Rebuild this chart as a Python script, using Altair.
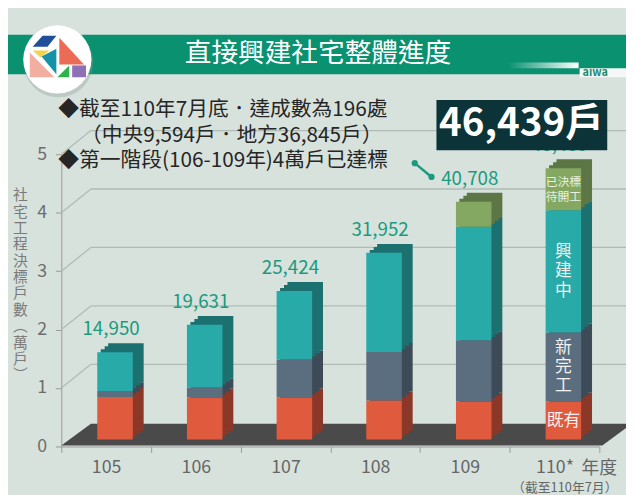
import altair as alt
import pandas as pd

# ---------------- data ----------------
years = ["105", "106", "107", "108", "109", "110*"]
totals = [14950, 19631, 25424, 31952, 40708, 46439]
existing = [7300, 7200, 7200, 6700, 6500, 6500]
new_done = [1000, 1700, 6500, 8300, 10500, 11800]
building = [6650, 10730, 11720, 16950, 19410, 20940]
awarded = [0, 0, 0, 0, 4300, 7200]
seg_names = ["既有", "新完工", "興建中", "已決標待開工"]
seg_labels = ["既有", "新\n完\n工", "興\n建\n中", "已決標\n待開工"]
y_ticks = [0, 10000, 20000, 30000, 40000, 50000]
grid_vals = [10000, 20000, 30000, 40000, 50000]
y_title = ["社", "宅", "工", "程", "決", "標", "戶", "數", "︵", "萬", "戶", "︶"]

front_colors = ["#e05a3d", "#5b6e80", "#27aaa8", "#84a862"]
side_colors = ["#8c3828", "#3d4a57", "#1c7170", "#5c7645"]

rows = []
for i, yr in enumerate(years):
    for j, vals in enumerate([existing, new_done, building, awarded]):
        rows.append({"year": yr, "seg": seg_names[j], "label": seg_labels[j],
                     "order": j, "value": vals[i]})
df = pd.DataFrame(rows)
tot_df = pd.DataFrame({"year": years, "total": totals})
grid_df = pd.DataFrame({"v": grid_vals})
dummy = pd.DataFrame({"a": [0]})

# ---------------- layout ----------------
PL, PT, W, H = 62, 153, 545, 296
FONT = "Noto Sans CJK TC"


def px(x):
    return x - PL


def py(y):
    return y - PT


X = alt.X("year:N", sort=years,
          scale=alt.Scale(paddingInner=0, paddingOuter=0),
          axis=alt.Axis(title=None, labelAngle=0, labelFontSize=18, labelColor="#666666",
                        tickBand="extent", tickSize=6, tickColor="#9a9a9a",
                        domainColor="#9a9a9a", labelPadding=6, grid=False, labelFont=FONT))
Y_SCALE = alt.Scale(domain=[0, 50000], nice=False, zero=True)
Y_AXIS = alt.Axis(values=y_ticks, labelExpr="datum.value / 10000", grid=False,
                  tickSize=6, tickColor="#9a9a9a", domainColor="#9a9a9a",
                  labelPadding=9, labelFontSize=18, labelColor="#6e6e6e", labelFont=FONT,
                  title=y_title, titleAngle=0, titleX=-42, titleY=34,
                  titleBaseline="top", titleAlign="center", titleFontSize=15,
                  titleColor="#7a7a7a", titleLineHeight=16.6, titleFontWeight="normal",
                  titleFont=FONT)


def Y(field):
    return alt.Y(field, scale=Y_SCALE, axis=Y_AXIS)


def deco():
    return alt.Chart(dummy)


def rect(x1, y1, x2, y2, color, **kw):
    return deco().mark_rect(color=color, **kw).encode(
        x=alt.value(px(x1)), x2=alt.value(px(x2)),
        y=alt.value(py(y1)), y2=alt.value(py(y2)))


def text(x, y, s, **kw):
    return deco().mark_text(text=s, font=FONT, **kw).encode(
        x=alt.value(px(x)), y=alt.value(py(y)))


def poly(path, color):
    # custom symbol path in page pixel coordinates (size 4 -> scale 1)
    return deco().mark_point(shape=path, size=4, filled=True, color=color,
                             opacity=1, strokeWidth=0).encode(
        x=alt.value(px(0)), y=alt.value(py(0)))


# ---------------- header ----------------
title_bar = rect(8, 32, 634, 72, "#0a9170")
grad = rect(515, 60, 586, 66, alt.LinearGradient(
    gradient="linear", x1=0, x2=1, y1=0, y2=0,
    stops=[alt.GradientStop(color="#0a9170", offset=0),
           alt.GradientStop(color="#ffffff", offset=1)]))
aiwa_bg = rect(587, 66, 634, 75, "#f4f7f5")
aiwa = text(590, 71, "aiwa", align="left", baseline="middle", fontSize=11,
            fontWeight="bold", color="#1d8a6e")
title = text(322, 52, "直接興建社宅整體進度", fontSize=27, color="white",
             align="center", baseline="middle", fontWeight="normal")

logo_shadow = deco().mark_circle(size=5000, color="#8a9a94", opacity=0.35).encode(
    x=alt.value(px(59)), y=alt.value(py(60)))
logo_circle = deco().mark_circle(size=4778, color="#ffffff", opacity=1).encode(
    x=alt.value(px(58)), y=alt.value(py(57)))
logo = [
    poly("M33 44 L43 33 L57 33 L48 44 Z", "#1f4e9a"),
    poly("M33 48 L50 48 L41 55 Z", "#f3d34a"),
    poly("M30 50 L30 75 L55 75 Z", "#f2aea0"),
    poly("M42 54 L57 46 L57 72 Z", "#1592a8"),
    poly("M60 35 L60 62 L85 62 Z", "#ec6b57"),
    poly("M58 75 L70 63 L70 75 Z", "#2db34a"),
    poly("M73 63 L87 63 L87 75 L73 75 Z", "#8f6fb5"),
]

# ---------------- chart body ----------------
grid_h = alt.Chart(grid_df).mark_rule(color="#b0bbb6", strokeWidth=1.3, yOffset=-24).encode(
    y=Y("v:Q"), x=alt.value(30), x2=alt.value(px(634)))
grid_d = alt.Chart(grid_df).mark_rule(color="#b0bbb6", strokeWidth=1.3, y2Offset=-24).encode(
    y=Y("v:Q"), y2=alt.Y2("v:Q"), x=alt.value(0), x2=alt.value(30))

floor = poly("M62 448 L92 426 L640 426 L610 448 Z", "#4a4a4a")


def stacked():
    return alt.Chart(df).transform_stack(
        stack="value", as_=["y0", "y1"], groupby=["year"],
        sort=[alt.SortField("order", order="ascending")])


def bar_layer(dx, dy, colors):
    return stacked().mark_bar(width=36, xOffset=9 + dx, yOffset=-7 - dy,
                              y2Offset=-7 - dy).encode(
        x=X, y=Y("y0:Q"), y2="y1:Q",
        color=alt.Color("seg:N", scale=alt.Scale(domain=seg_names, range=colors),
                        legend=None))


side3 = bar_layer(11, 9, side_colors)
side2 = bar_layer(7.5, 6, side_colors)
side1 = bar_layer(3.5, 3, side_colors)
front = bar_layer(0, 0, front_colors)

val_labels = alt.Chart(tot_df).mark_text(
    color="#1a9b7d", fontSize=19, font=FONT, baseline="middle",
    xOffset=5, yOffset=-30).encode(
    x=X, y=Y("total:Q"), text=alt.Text("total:Q", format=","))

seg_base = stacked().transform_filter(
    "datum.year == '110*' && datum.value > 0").transform_calculate(
    mid="(datum.y0 + datum.y1) / 2")


def seg_text(cond, size, lh, shift, color):
    return seg_base.transform_filter(cond).mark_text(
        color=color, fontSize=size, font=FONT, lineBreak="\n", lineHeight=lh,
        baseline="middle", xOffset=9, yOffset=-7 - shift).encode(
        x=X, y=Y("mid:Q"), text="label:N")


seg_one = seg_text("datum.order == 0", 17, 19.5, 0, "#f2f2f2")
seg_three = seg_text("datum.order == 1 || datum.order == 2", 17, 19.5, 19.5, "#f2f2f2")
seg_small = seg_text("datum.order == 3", 12, 15, 7.5, "#e9f1de")

# ---------------- annotations ----------------
ann_kw = dict(fontSize=21, color="#262626", align="left", baseline="middle")
ann1 = text(59, 108, "◆截至110年7月底．達成數為196處", **ann_kw)
ann2 = text(82, 135, "（中央9,594戶．地方36,845戶）", **ann_kw)
ann3 = text(59, 160, "◆第一階段(106-109年)4萬戶已達標", **ann_kw)
conn = deco().mark_rule(color="#1a9b7d", strokeWidth=2.5).encode(
    x=alt.value(px(420)), x2=alt.value(px(437)), y=alt.value(py(162)), y2=alt.value(py(176)))
dot1 = deco().mark_circle(size=40, color="#1a9b7d", opacity=1).encode(
    x=alt.value(px(420)), y=alt.value(py(162)))
dot2 = deco().mark_circle(size=40, color="#1a9b7d", opacity=1).encode(
    x=alt.value(px(437)), y=alt.value(py(176)))

box = rect(442, 98, 615, 149, "#0c3438")
box_text = text(528, 123, "46,439戶", fontSize=39, fontWeight="bold", color="#ffffff",
                align="center", baseline="middle")

year_lbl = text(607, 472, "年度", fontSize=18, color="#666666", align="center",
                baseline="middle")
note_lbl = text(572, 491, "（截至110年7月）", fontSize=13, color="#666666",
                align="center", baseline="middle")

chart = alt.layer(
    title_bar, grad, aiwa_bg, aiwa,
    logo_shadow, logo_circle, *logo,
    grid_h, grid_d, floor,
    side3, side2, side1, front,
    val_labels, seg_one, seg_three, seg_small,
    ann1, ann2, ann3, conn, dot1, dot2,
    box, box_text, year_lbl, note_lbl, title,
).resolve_scale(color="independent").properties(
    width=W, height=H,
    autosize=alt.AutoSizeParams(type="none"),
    padding={"left": PL - 8, "top": PT - 8, "right": 634 - 8 - (PL - 8) - W,
             "bottom": 495 - 8 - (PT - 8) - H},
).configure(background="#d7e2dd", font=FONT).configure_view(stroke=None)

chart.save("out.html", embed_options={"renderer": "svg", "actions": False})
